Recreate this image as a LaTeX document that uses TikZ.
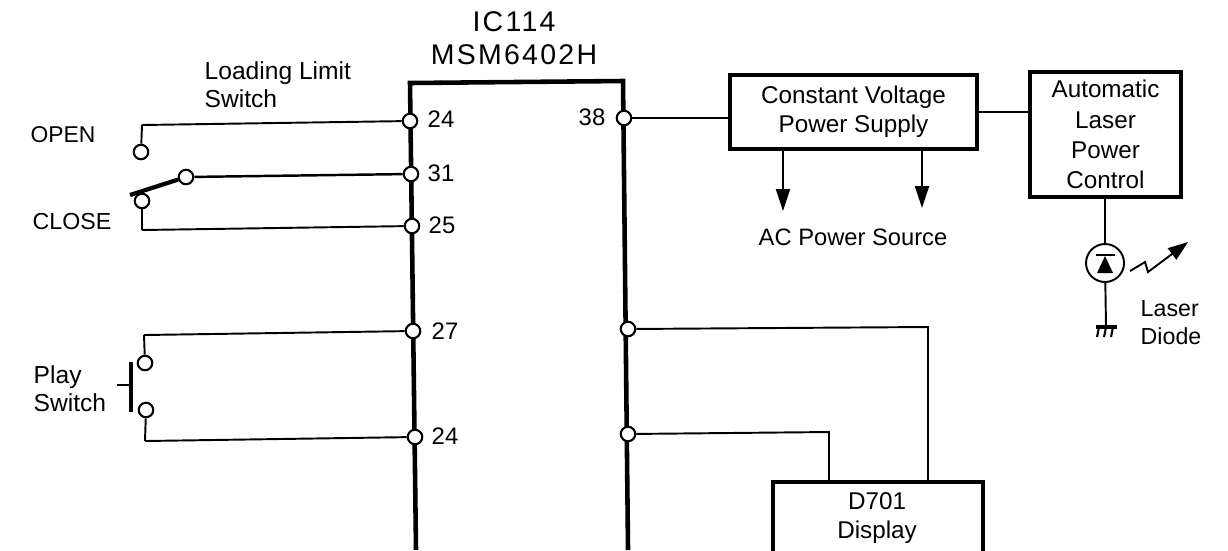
\documentclass[tikz,border=0pt]{standalone}
\usepackage{fontspec}
\setmainfont{Liberation Sans}
\newfontfamily\widefont[LetterSpace=8]{Liberation Sans}
\usetikzlibrary{arrows.meta}
\tikzset{
  wire/.style={draw=black,line width=.55pt},
  rail/.style={draw=black,line width=1.3pt},
  blackbox/.style={draw=black,line width=1.25pt,fill=white,align=center,inner sep=0pt,font=\fontsize{6.9}{8.2}\selectfont},
  pin/.style={circle,draw=black,fill=white,line width=.6pt,minimum size=.145cm,inner sep=0pt},
  txt/.style={anchor=west,inner sep=0pt,font=\fontsize{6.8}{8}\selectfont,text=black},
}
\begin{document}
\begin{tikzpicture}
\useasboundingbox (0,0) rectangle (12.28,5.5);
\fill[white] (0,0) rectangle (12.28,5.5);
% title of the chip
\node[inner sep=0pt,font=\fontsize{8.1}{9.4}\widefont,align=center] (ictitle) at (5.14,5.115) {IC114\\MSM6402H};
% chip outline, open at the bottom
\coordinate (ictl) at (4.10,4.67);
\coordinate (ictr) at (6.23,4.69);
\coordinate (icbl) at (4.16,0);
\coordinate (icbr) at (6.28,0);
\draw[rail,line join=miter] (icbl) -- (ictl) -- (ictr) -- (icbr);
% corners of the thin wires
\coordinate (opencorner) at (1.42,4.25);
\coordinate (closecorner) at (1.42,3.20);
\coordinate (playtop) at (1.44,2.15);
\coordinate (playbot) at (1.45,1.09);
\coordinate (dispa) at (9.28,2.23);
\coordinate (dispb) at (8.29,1.18);
\coordinate (blade) at (1.30,3.55);
% terminals at the switches
\node[pin] (open) at (1.41,3.98) {};
\node[pin] (close) at (1.42,3.49) {};
\node[pin] (arm) at (1.86,3.73) {};
\node[pin] (playa) at (1.45,1.87) {};
\node[pin] (playb) at (1.46,1.40) {};
% chip pins
\draw[wire] (opencorner) -- (open);
\draw[wire] (closecorner) -- (close);
\draw[wire] (playtop) -- (playa);
\draw[wire] (playbot) -- (playb);
\node[pin] (pina) at (4.10,4.29) {};
\node[pin] (pinb) at (4.11,3.76) {};
\node[pin] (pinc) at (4.12,3.24) {};
\node[pin] (pind) at (4.13,2.19) {};
\node[pin] (pine) at (4.15,1.13) {};
\node[pin] (pinf) at (6.24,4.32) {};
\node[pin] (ping) at (6.28,2.21) {};
\node[pin] (pinh) at (6.28,1.16) {};
\draw[wire] (opencorner) -- (pina);
\draw[wire,line width=.7pt] (arm) -- (pinb);
\draw[wire] (closecorner) -- (pinc);
\draw[wire] (playtop) -- (pind);
\draw[wire] (playbot) -- (pine);
% switch blade and push button
\draw[line width=1.2pt] (blade) -- (arm);
\coordinate (bara) at (1.31,1.88);
\coordinate (barb) at (1.31,1.38);
\coordinate (stub) at (1.17,1.65);
\draw[line width=1.4pt] (bara) -- (barb);
\draw[line width=.8pt] (stub) -- (stub -| bara);
% pin numbers
\node[txt] (numa) at (4.27,4.31) {24};
\node[txt] (numb) at (4.27,3.77) {31};
\node[txt] (numc) at (4.28,3.25) {25};
\node[txt] (numd) at (4.31,2.19) {27};
\node[txt] (nume) at (4.31,1.14) {24};
\node[txt,anchor=east] (numf) at (6.06,4.33) {38};
% switch labels
\node[txt,align=left,font=\fontsize{7}{8}\selectfont] (limit) at (2.04,4.655) {Loading Limit\\Switch};
\node[txt,font=\fontsize{6.5}{8}\selectfont] (opentxt) at (.30,4.15) {OPEN};
\node[txt,font=\fontsize{6.6}{8}\selectfont] (closetxt) at (.32,3.28) {CLOSE};
\node[txt,align=left,font=\fontsize{7}{8}\selectfont] (playtxt) at (.33,1.61) {Play\\Switch};
% power supply and laser control
\node[blackbox,minimum width=2.475cm,minimum height=.735cm] (cvps) at (8.535,4.38) {Constant Voltage\\Power Supply};
\node[blackbox,minimum width=1.51cm,minimum height=1.25cm,font=\fontsize{6.9}{8.6}\selectfont] (alpc) at (11.055,4.155) {Automatic\\Laser\\Power\\Control};
\draw[wire] (pinf) -- (pinf -| cvps.west);
\draw[wire] (cvps.east) -- (cvps.east -| alpc.west);
\coordinate (acleft) at (7.83,3.39);
\coordinate (acright) at (9.22,3.42);
\draw[wire,-{Triangle[length=.22cm,width=.14cm]}] (acleft |- cvps.south) -- (acleft);
\draw[wire,-{Triangle[length=.22cm,width=.14cm]}] (acright |- cvps.south) -- (acright);
\node[txt,anchor=center,font=\fontsize{6.75}{8}\selectfont] (actxt) at (8.53,3.13) {AC Power Source};
% laser diode
\node[circle,draw=black,line width=.55pt,minimum size=.38cm,inner sep=0pt] (diode) at (11.05,2.87) {};
\coordinate (gnd) at (11.06,2.23);
\draw[wire] (alpc.south -| diode) -- (diode);
\draw[wire] (diode) -- (gnd);
\fill (11.05,2.94) -- (10.97,2.77) -- (11.13,2.77) -- cycle;
\draw[line width=.7pt] (10.96,2.95) -- (11.15,2.95);
\draw[line width=1pt] (10.96,2.23) -- (11.17,2.23);
\foreach \x in {10.99,11.06,11.13}{
  \draw[line width=.6pt] (\x,2.23) -- (\x-.02,2.13);
}
\draw[wire,-{Triangle[length=.2cm,width=.14cm]}] (11.30,2.79) -- (11.45,2.88) -- (11.48,2.78) -- (11.88,3.08);
\node[txt,align=left,font=\fontsize{6.6}{8}\selectfont] (lasertxt) at (11.40,2.27) {Laser\\Diode};
% display
\node[blackbox,minimum width=2.10cm,minimum height=.80cm] (disp) at (8.78,.28) {};
\node[txt,anchor=center,align=center,font=\fontsize{6.9}{8.5}\selectfont] (disptxt) at (8.77,.32) {D701\\Display};
\draw[wire] (ping) -- (dispa) -- (dispa |- disp.north);
\draw[wire] (pinh) -- (dispb) -- (dispb |- disp.north);
\end{tikzpicture}
\end{document}
